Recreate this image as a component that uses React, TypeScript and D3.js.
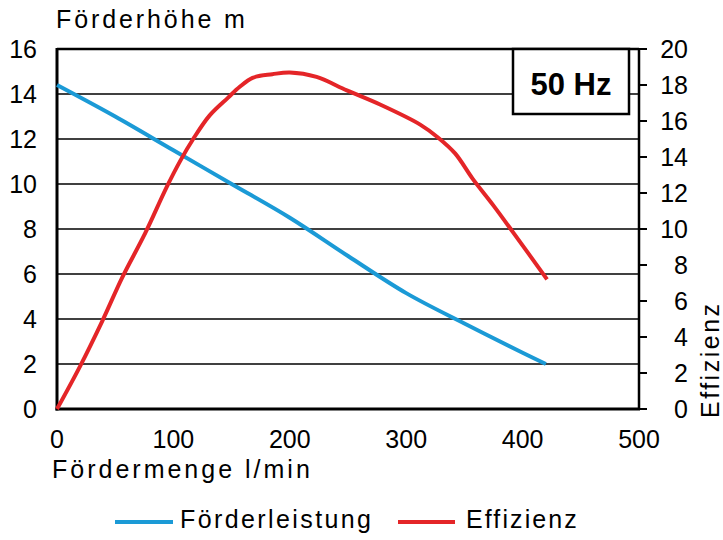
import * as d3 from "d3";

const W = 723;
const H = 540;

const FLOW_TICKS = [0, 100, 200, 300, 400, 500];
const HEAD_TICKS = [0, 2, 4, 6, 8, 10, 12, 14, 16];
const EFF_TICKS = [0, 2, 4, 6, 8, 10, 12, 14, 16, 18, 20];

// Förderleistung: Fördermenge (l/min) -> Förderhöhe (m)
const headFlow = [0, 50, 100, 150, 200, 250, 300, 350, 400, 420];
const headValue = [14.4, 13.0, 11.5, 10.0, 8.5, 6.8, 5.15, 3.8, 2.5, 2.0];

// Effizienz: Fördermenge (l/min) -> Effizienz
const effFlow = [0, 20, 39, 56, 76, 94, 106, 117, 131, 147, 157, 168, 185, 200, 223, 249, 278, 312, 327, 342, 357, 375, 392, 421];
const effValue = [0, 2.4, 4.9, 7.3, 9.8, 12.3, 13.8, 15.0, 16.3, 17.3, 17.9, 18.4, 18.6, 18.7, 18.45, 17.7, 16.9, 15.8, 15.1, 14.2, 12.8, 11.3, 9.8, 7.2];

const BLUE = "#1b9ad6";
const RED = "#e42528";
const FONT = "'Liberation Sans', Arial, sans-serif";

export default function App() {
  const x = d3.scaleLinear().domain([0, 500]).range([57, 639]);
  const yL = d3.scaleLinear().domain([0, 16]).range([409, 49]);
  const yR = d3.scaleLinear().domain([0, 20]).range([409, 49]);

  const headLine = d3
    .line<number>()
    .x((_, i) => x(headFlow[i]))
    .y((d) => yL(d))
    .curve(d3.curveCatmullRom);
  const effLine = d3
    .line<number>()
    .x((_, i) => x(effFlow[i]))
    .y((d) => yR(d))
    .curve(d3.curveCatmullRom);

  const [x0, x1] = x.range();
  const yTop = yL(16);
  const yBot = yL(0);

  return (
    <svg
      width={W}
      height={H}
      style={{ position: "fixed", left: 0, top: 0, display: "block", background: "#fff" }}
      fontFamily={FONT}
    >
      {/* grid lines */}
      {HEAD_TICKS.filter((t) => t > 0 && t < 16).map((t) => (
        <line key={t} x1={x0} x2={x1} y1={yL(t)} y2={yL(t)} stroke="#000" strokeWidth={1.6} />
      ))}

      {/* frame */}
      <line x1={x0} x2={x1} y1={yTop} y2={yTop} stroke="#000" strokeWidth={2.5} />
      <line x1={x1} x2={x1} y1={yTop} y2={yBot} stroke="#000" strokeWidth={2.5} />
      <line x1={x0} x2={x0} y1={yTop - 1} y2={yBot + 1.5} stroke="#000" strokeWidth={3} />
      <line x1={x0 - 1.5} x2={x1 + 1} y1={yBot} y2={yBot} stroke="#000" strokeWidth={3} />

      {/* right axis ticks */}
      {EFF_TICKS.map((t) => (
        <line key={t} x1={x1} x2={x1 + 8} y1={yR(t)} y2={yR(t)} stroke="#000" strokeWidth={2} />
      ))}

      {/* 50 Hz box */}
      <rect x={513} y={yTop} width={116} height={65} fill="#fff" stroke="#000" strokeWidth={2.5} />
      <text x={571} y={95} textAnchor="middle" fontSize={31} fontWeight={700}>
        50 Hz
      </text>

      {/* curves */}
      <path d={headLine(headValue) ?? ""} fill="none" stroke={BLUE} strokeWidth={4} />
      <path d={effLine(effValue) ?? ""} fill="none" stroke={RED} strokeWidth={4} />

      {/* left tick labels */}
      {HEAD_TICKS.map((t) => (
        <text key={t} x={37} y={yL(t) + 9} textAnchor="end" fontSize={25}>
          {t}
        </text>
      ))}
      {/* right tick labels */}
      {EFF_TICKS.map((t) => (
        <text key={t} x={688} y={yR(t) + 9} textAnchor="end" fontSize={25}>
          {t}
        </text>
      ))}
      {/* x tick labels */}
      {FLOW_TICKS.map((t) => (
        <text key={t} x={x(t)} y={448} textAnchor="middle" fontSize={25}>
          {t}
        </text>
      ))}

      {/* axis titles */}
      <text x={56} y={28} fontSize={25} letterSpacing={2.9}>
        Förderhöhe m
      </text>
      <text x={52} y={478} fontSize={25} letterSpacing={3}>
        Fördermenge l/min
      </text>
      <text
        transform="translate(719,418) rotate(-90)"
        fontSize={25}
        letterSpacing={2.5}
      >
        Effizienz
      </text>

      {/* legend */}
      <line x1={115} x2={173} y1={522} y2={522} stroke={BLUE} strokeWidth={4} />
      <text x={180} y={528} fontSize={25} letterSpacing={2.4}>
        Förderleistung
      </text>
      <line x1={398} x2={455} y1={522} y2={522} stroke={RED} strokeWidth={4} />
      <text x={466} y={528} fontSize={25} letterSpacing={2.1}>
        Effizienz
      </text>
    </svg>
  );
}
